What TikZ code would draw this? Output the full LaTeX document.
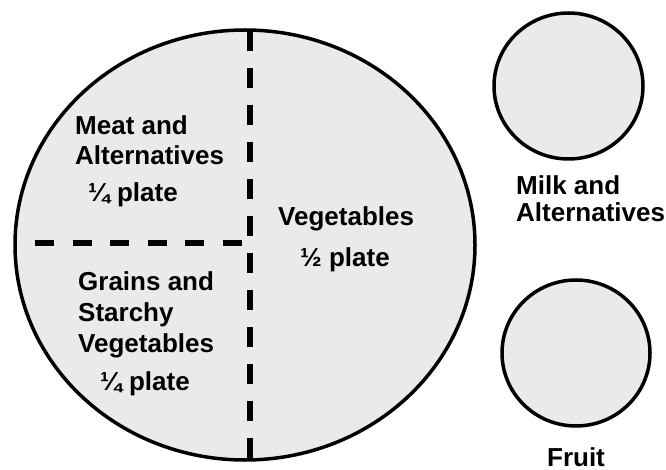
\documentclass[tikz,border=0pt]{standalone}
\usepackage{fontspec}
\setmainfont{Liberation Sans}
\definecolor{platefill}{RGB}{234,234,234}
\begin{document}
\begin{tikzpicture}[x=1pt,y=-1pt,
  plate/.style={draw=black,line width=3.5pt,fill=platefill},
  divider/.style={draw=black,line width=5.5pt},
  lbl/.style={inner sep=0pt,anchor=base west,font=\fontsize{26}{30}\selectfont\bfseries}]
\useasboundingbox (0,0) rectangle (666,470);
\path[plate] (245,245) ellipse [x radius=230, y radius=215];
\path[plate] (568.5,86) ellipse [x radius=74.5, y radius=73];
\path[plate] (576,353) ellipse [x radius=74, y radius=73];
\coordinate (vtop) at (250,31);
\coordinate (vbot) at (250,460);
\coordinate (hl) at (35,243);
\coordinate (hr) at (243,243);
\draw[divider,dash pattern=on 20pt off 17pt] (vtop) -- (vbot);
\draw[divider,dash pattern=on 19pt off 18.5pt] (hl) -- (hr);
\node[lbl] (meat1) at (75,135) {Meat and};
\node[lbl] (meat2) at (75,165) {Alternatives};
\node[lbl] (meat3) at (88,202) {¼ plate};
\node[lbl] (grain1) at (78,290) {Grains and};
\node[lbl] (grain2) at (78,321) {Starchy};
\node[lbl] (grain3) at (78,352) {Vegetables};
\node[lbl] (grain4) at (100,390) {¼ plate};
\node[lbl] (veg1) at (278,226) {Vegetables};
\node[lbl] (veg2) at (300,266) {½ plate};
\node[lbl] (milk1) at (516,195) {Milk and};
\node[lbl] (milk2) at (516,222) {Alternatives};
\node[lbl,anchor=base] (fruit) at (576,466) {Fruit};
\end{tikzpicture}
\end{document}
